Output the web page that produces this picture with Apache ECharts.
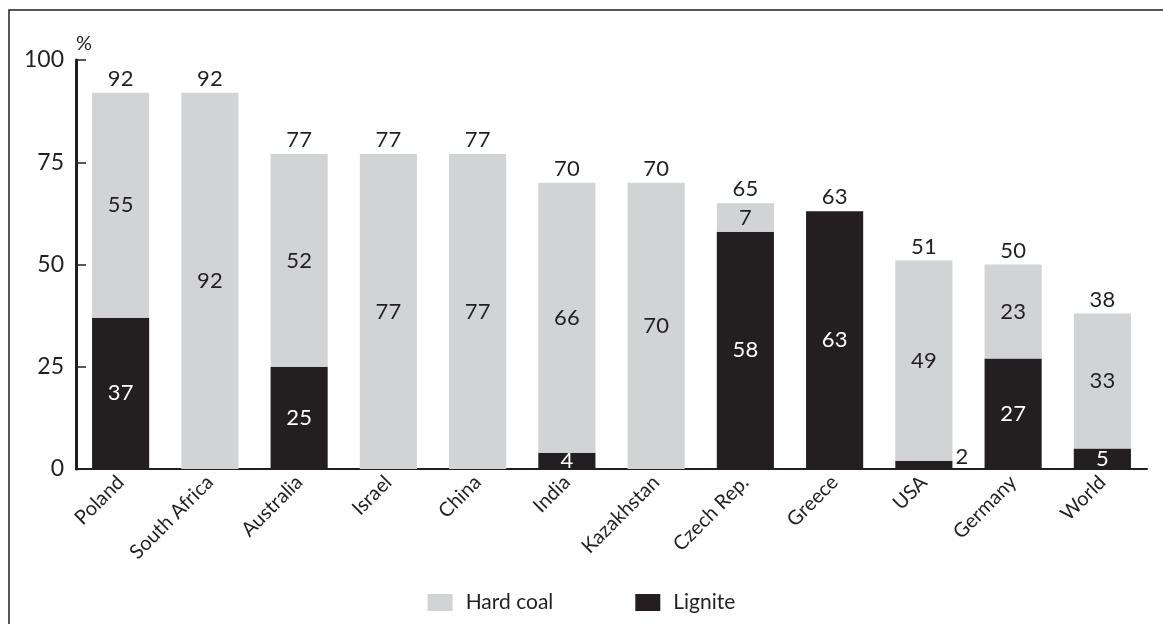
<!DOCTYPE html>
<html>
<head>
<meta charset="utf-8">
<script src="https://cdn.jsdelivr.net/npm/echarts@6/dist/echarts.min.js"></script>
<style>
  html, body { margin: 0; padding: 0; background: #fff; }
  #chart { width: 1163px; height: 624px; }
</style>
</head>
<body>
<div id="chart"></div>
<script>
const countries = ['Poland', 'South Africa', 'Australia', 'Israel', 'China', 'India',
  'Kazakhstan', 'Czech Rep.', 'Greece', 'USA', 'Germany', 'World']
const lignite = [37, 0, 25, 0, 0, 4, 0, 58, 63, 2, 27, 5]
const hardCoal = [55, 92, 52, 77, 77, 66, 70, 7, 0, 49, 23, 33]
const totals = [92, 92, 77, 77, 77, 70, 70, 65, 63, 51, 50, 38]
const yTicks = [0, 25, 50, 75, 100]

const dark = '#231f20'
const grey = '#d1d3d4'
const font = 'Lato'

const chart = echarts.init(document.getElementById('chart'))

// USA lignite label sits beside the thin bar
const ligniteData = lignite.map((v, i) => {
  if (countries[i] === 'USA') {
    return { value: v, label: { position: 'right', color: dark, distance: 3, offset: [0, -8] } }
  }
  return v
})

chart.setOption({
  animation: false,
  textStyle: { fontFamily: font },
  graphic: [{
    type: 'rect',
    shape: { x: 9, y: 10, width: 1300, height: 800 },
    style: { fill: 'none', stroke: dark, lineWidth: 1.5 },
    silent: true
  }],
  grid: { left: 76, right: 16, top: 60, bottom: 155 },
  legend: {
    bottom: 6,
    left: 'center',
    icon: 'rect',
    itemWidth: 25,
    itemHeight: 17,
    itemGap: 82,
    data: ['Hard coal', 'Lignite'],
    textStyle: { fontSize: 21, color: dark, fontFamily: font, padding: [0, 0, 0, 8] }
  },
  xAxis: {
    type: 'category',
    data: countries,
    axisLine: { lineStyle: { color: dark, width: 2 } },
    axisTick: { inside: true, length: 10, lineStyle: { color: '#555', width: 1 } },
    axisLabel: { rotate: 45, fontSize: 20, color: dark, margin: 10, fontFamily: font }
  },
  yAxis: {
    type: 'value',
    min: 0,
    max: 100,
    interval: 25,
    name: '%',
    nameGap: 6,
    nameTextStyle: { fontSize: 20, color: dark, align: 'left', fontFamily: font },
    axisLine: { show: true, lineStyle: { color: dark, width: 3 } },
    axisTick: { show: true, inside: true, length: 10, lineStyle: { color: dark, width: 1.5 } },
    splitLine: { show: false },
    axisLabel: {
      fontSize: 23, color: dark, margin: 12, fontFamily: font,
      formatter: v => yTicks.includes(v) ? String(v) : ''
    }
  },
  series: [
    {
      name: 'Lignite',
      type: 'bar',
      stack: 'coal',
      barWidth: '64%',
      itemStyle: { color: dark },
      label: {
        show: true, position: 'inside', color: '#fff', fontSize: 22, fontFamily: font,
        formatter: p => p.value > 0 ? String(p.value) : ''
      },
      data: ligniteData
    },
    {
      name: 'Hard coal',
      type: 'bar',
      stack: 'coal',
      itemStyle: { color: grey },
      label: {
        show: true, position: 'inside', color: dark, fontSize: 22, fontFamily: font,
        formatter: p => p.value > 0 ? String(p.value) : ''
      },
      data: hardCoal
    },
    {
      name: 'Total',
      type: 'bar',
      stack: 'coal',
      itemStyle: { color: 'transparent' },
      label: {
        show: true, position: 'top', color: dark, fontSize: 22, distance: 3, fontFamily: font,
        formatter: p => String(totals[p.dataIndex])
      },
      data: totals.map(() => 0)
    }
  ]
})
</script>
</body>
</html>
